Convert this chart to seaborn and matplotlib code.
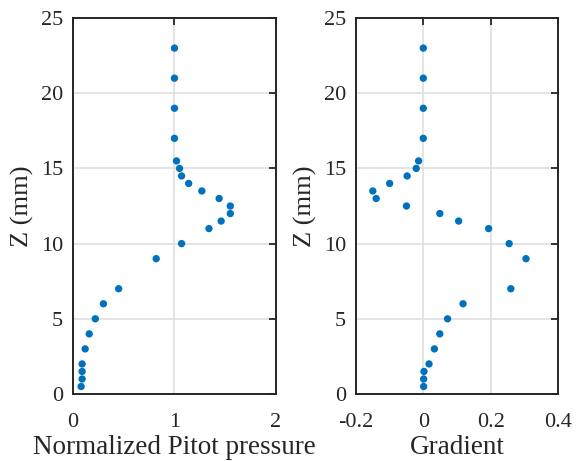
import numpy as np
import pandas as pd
import matplotlib.pyplot as plt
import seaborn as sns

# Data
z_mm = [23, 21, 19, 17, 15.5, 15, 14.5, 14, 13.5, 13, 12.5, 12, 11.5, 11,
        10, 9, 7, 6, 5, 4, 3, 2, 1.5, 1, 0.5]
pitot = [1.0, 1.0, 1.0, 1.0, 1.02, 1.05, 1.07, 1.14, 1.27, 1.44, 1.55, 1.55,
         1.46, 1.34, 1.07, 0.82, 0.45, 0.30, 0.22, 0.16, 0.12, 0.09, 0.09,
         0.09, 0.08]
gradient = [0.0, 0.0, 0.0, 0.0, -0.014, -0.021, -0.048, -0.10, -0.15, -0.14,
            -0.05, 0.049, 0.105, 0.194, 0.255, 0.305, 0.26, 0.118, 0.072,
            0.049, 0.033, 0.017, 0.002, 0.001, 0.001]

df = pd.DataFrame({"z": z_mm, "pitot": pitot, "grad": gradient})

sns.set_theme(style="white")
plt.rcParams["font.family"] = ["Liberation Serif", "DejaVu Serif"]

marker_color = "#0072BD"
edge = "#262626"

fig = plt.figure(figsize=(5.76, 4.61), dpi=100)
ax1 = fig.add_axes([0.1267, 0.1453, 0.3524, 0.8156])
ax2 = fig.add_axes([0.618, 0.1453, 0.3507, 0.8156])

sns.scatterplot(data=df, x="pitot", y="z", ax=ax1, color=marker_color,
                s=28, edgecolor="none", zorder=3)
sns.scatterplot(data=df, x="grad", y="z", ax=ax2, color=marker_color,
                s=28, edgecolor="none", zorder=3)

ax1.set_xlim(0, 2)
ax1.set_xticks([0, 1, 2])
ax2.set_xlim(-0.2, 0.4)
ax2.set_xticks([-0.2, 0, 0.2, 0.4])
ax2.set_xticklabels(["-0.2", "0", "0.2", "0.4"])

ax1.set_xlabel("Normalized Pitot pressure", fontsize=19.5, color=edge,
               labelpad=2)
ax2.set_xlabel("Gradient", fontsize=19.5, color=edge, labelpad=2)

for ax in (ax1, ax2):
    ax.set_ylim(0, 25)
    ax.set_yticks([0, 5, 10, 15, 20, 25])
    ax.set_ylabel("Z (mm)", fontsize=19, color=edge, labelpad=5)
    ax.grid(True, color="#dfdfdf", linewidth=1.2, zorder=0)
    ax.set_axisbelow(True)
    ax.tick_params(direction="in", length=5, width=1.3, colors=edge,
                   labelsize=16, top=True, right=True)
    ax.tick_params(axis="x", pad=14)
    ax.tick_params(axis="y", pad=7)
    for sp in ax.spines.values():
        sp.set_color(edge)
        sp.set_linewidth(1.4)

fig.savefig("out.png", dpi=100)
